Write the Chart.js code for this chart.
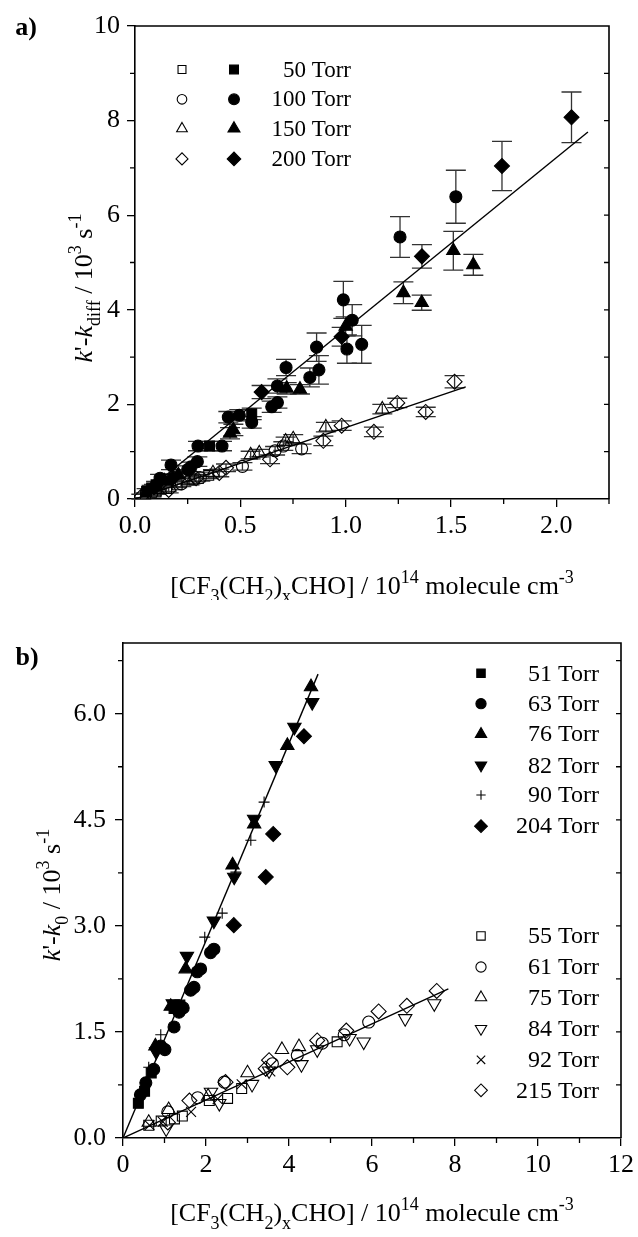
<!DOCTYPE html>
<html>
<head>
<meta charset="utf-8">
<script src="https://cdn.jsdelivr.net/npm/chart.js@4/dist/chart.umd.min.js"></script>
<style>
html, body { margin: 0; padding: 0; background: #fff; }
#wrap { position: relative; width: 638px; height: 1237px; }
canvas { position: absolute; left: 0; }
</style>
</head>
<body>
<div id="wrap">
	<canvas id="chartA" width="638" height="600" style="top:0"></canvas>
	<canvas id="chartB" width="638" height="637" style="top:600px"></canvas>
</div>
<script>
// ---------- panel a) data: [CF3(CH2)xCHO] (1e14) vs k'-kdiff (1e3 s-1) ----------
const aOpen50X = [0.05, 0.10, 0.15, 0.20, 0.28, 0.35];
const aOpen50Y = [0.08, 0.15, 0.22, 0.30, 0.40, 0.50];
const aOpen50E = [0.05, 0.05, 0.06, 0.06, 0.07, 0.07];

const aOpen100X = [0.08, 0.22, 0.31, 0.51, 0.665, 0.704, 0.791];
const aOpen100Y = [0.12, 0.32, 0.45, 0.69, 1.02, 1.12, 1.06];
const aOpen100E = [0.05, 0.06, 0.07, 0.08, 0.09, 0.09, 0.1];

const aOpen150X = [0.12, 0.25, 0.37, 0.549, 0.59, 0.715, 0.751, 0.906, 1.174];
const aOpen150Y = [0.20, 0.38, 0.55, 0.93, 0.97, 1.22, 1.27, 1.52, 1.90];
const aOpen150E = [0.05, 0.06, 0.07, 0.08, 0.08, 0.09, 0.09, 0.1, 0.1];

const aOpen200X = [0.03, 0.16, 0.29, 0.40, 0.432, 0.641, 0.894, 0.981, 1.134, 1.245, 1.38, 1.517];
const aOpen200Y = [0.05, 0.19, 0.44, 0.55, 0.66, 0.84, 1.23, 1.55, 1.42, 2.03, 1.84, 2.48];
const aOpen200E = [0.05, 0.06, 0.07, 0.08, 0.08, 0.09, 0.1, 0.1, 0.1, 0.1, 0.1, 0.13];

const aFill50X = [0.055, 0.079, 0.10, 0.354, 0.554];
const aFill50Y = [0.16, 0.23, 0.30, 1.12, 1.80];
const aFill50E = [0.06, 0.06, 0.07, 0.1, 0.12];

const aFill100X = [0.119, 0.171, 0.25, 0.266, 0.296, 0.299, 0.413, 0.443, 0.495, 0.554, 0.649, 0.676, 0.676, 0.717, 0.83, 0.862, 0.873, 0.989, 1.006, 1.031, 1.076, 1.258, 1.523];
const aFill100Y = [0.44, 0.72, 0.62, 0.68, 0.79, 1.12, 1.12, 1.73, 1.77, 1.62, 1.95, 2.04, 2.39, 2.78, 2.57, 3.21, 2.73, 4.21, 3.17, 3.78, 3.27, 5.54, 6.39];
const aFill100E = [0.08, 0.1, 0.08, 0.1, 0.1, 0.1, 0.1, 0.12, 0.12, 0.12, 0.12, 0.12, 0.15, 0.17, 0.2, 0.3, 0.3, 0.39, 0.3, 0.33, 0.4, 0.43, 0.56];

const aFill150X = [0.14, 0.206, 0.451, 0.467, 0.72, 0.783, 1.0, 1.274, 1.361, 1.511, 1.606];
const aFill150Y = [0.38, 0.51, 1.39, 1.46, 2.34, 2.32, 3.65, 4.36, 4.15, 5.25, 4.95];
const aFill150E = [0.06, 0.08, 0.12, 0.12, 0.12, 0.1, 0.2, 0.23, 0.16, 0.41, 0.22];

const aFill200X = [0.09, 0.18, 0.601, 0.981, 1.362, 1.742, 2.072];
const aFill200Y = [0.25, 0.45, 2.26, 3.43, 5.13, 7.04, 8.07];
const aFill200E = [0.06, 0.08, 0.14, 0.2, 0.25, 0.52, 0.535];

// fitted straight lines (end points)
const aFitUpperX = [0.03, 2.15];
const aFitUpperY = [0.08, 7.76];
const aFitLowerX = [0.0, 1.57];
const aFitLowerY = [0.0, 2.37];

const aLegendLabels = ['50 Torr', '100 Torr', '150 Torr', '200 Torr'];
const aXMinorTicks = [0.25, 0.75, 1.25, 1.75, 2.25];
const aYMinorTicks = [1, 3, 5, 7, 9];
const aYRightTicks = [1, 2, 3, 4, 5, 6, 7, 8, 9];

// ---------- panel b) data ----------
const b51X = [0.37, 0.52, 0.68, 1.23, 1.37];
const b51Y = [0.49, 0.66, 0.92, 1.83, 1.88];
const b63X = [0.42, 0.55, 0.74, 0.91, 1.01, 1.23, 1.35, 1.45, 1.63, 1.71, 1.79, 1.87, 2.11, 2.19];
const b63Y = [0.61, 0.78, 0.97, 1.30, 1.25, 1.57, 1.78, 1.84, 2.09, 2.13, 2.35, 2.39, 2.62, 2.67];
const b76X = [0.78, 1.15, 1.51, 2.64, 3.16, 3.96, 4.53];
const b76Y = [1.30, 1.86, 2.39, 3.86, 4.44, 5.55, 6.38];
const b82X = [0.80, 1.20, 1.54, 2.19, 2.68, 3.16, 3.68, 4.13, 4.56];
const b82Y = [1.22, 1.90, 2.57, 3.07, 3.69, 4.51, 5.27, 5.81, 6.16];
const b90X = [0.62, 0.91, 1.97, 2.39, 2.72, 3.08, 3.40];
const b90Y = [1.00, 1.46, 2.84, 3.18, 3.76, 4.21, 4.75];
const b204X = [2.67, 3.44, 3.62, 4.36];
const b204Y = [3.01, 3.69, 4.30, 5.68];

const b55X = [0.62, 0.92, 1.24, 1.43, 2.08, 2.52, 2.86, 5.16];
const b55Y = [0.18, 0.24, 0.27, 0.31, 0.53, 0.56, 0.70, 1.36];
const b61X = [1.08, 1.80, 2.44, 3.60, 4.20, 4.80, 5.33, 5.92];
const b61Y = [0.37, 0.57, 0.79, 1.05, 1.17, 1.34, 1.46, 1.64];
const b75X = [0.62, 1.10, 2.05, 3.00, 3.83, 4.24];
const b75Y = [0.22, 0.40, 0.59, 0.92, 1.25, 1.29];
const b84X = [1.04, 2.12, 2.32, 3.11, 3.52, 4.30, 4.68, 5.46, 5.80, 6.80, 7.50];
const b84Y = [0.13, 0.65, 0.49, 0.76, 0.95, 1.04, 1.25, 1.41, 1.36, 1.69, 1.90];
const b92X = [0.64, 0.96, 1.64, 2.28, 2.86, 3.55];
const b92Y = [0.18, 0.23, 0.37, 0.55, 0.76, 0.94];
const b215X = [1.08, 1.60, 2.47, 3.44, 3.52, 3.96, 4.68, 5.38, 6.16, 6.84, 7.56];
const b215Y = [0.22, 0.53, 0.79, 0.98, 1.10, 1.00, 1.38, 1.52, 1.79, 1.87, 2.08];

const bFitUpperX = [0.0, 4.70];
const bFitUpperY = [0.0, 6.56];
const bFitLowerX = [0.0, 7.84];
const bFitLowerY = [0.0, 2.11];

const bFilledLabels = ['51 Torr', '63 Torr', '76 Torr', '82 Torr', '90 Torr', '204 Torr'];
const bOpenLabels = ['55 Torr', '61 Torr', '75 Torr', '84 Torr', '92 Torr', '215 Torr'];
const bXMinorTicks = [1, 3, 5, 7, 9, 11];
const bYMinorTicks = [0.75, 2.25, 3.75, 5.25, 6.75];
const bYRightTicks = [0.75, 1.5, 2.25, 3.0, 3.75, 4.5, 5.25, 6.0, 6.75];

const FONT = '"Liberation Serif", "Times New Roman", serif';
const TICK_SIZE = 26;
const TITLE_SIZE = 26;
Chart.defaults.font.family = FONT;
Chart.defaults.color = '#000';

// marker looks
const STYLES = {
	square: { pointStyle: 'rect', r: 7, rot: 0 },
	circle: { pointStyle: 'circle', r: 6, rot: 0 },
	up: { pointStyle: 'triangle', r: 7.7, rot: 0 },
	down: { pointStyle: 'triangle', r: 7.7, rot: 180 },
	diamond: { pointStyle: 'rectRot', r: 7.5, rot: 0 },
	plus: { pointStyle: 'cross', r: 5.5, rot: 0 },
	cross: { pointStyle: 'crossRot', r: 7, rot: 0 },
};

let toPoints = (xs, ys) => xs.map((v, i) => ({ x: v, y: ys[i] }));

let markerSet = (label, xs, ys, shape, filled, errors) => {
	let st = STYLES[shape];
	return {
		label,
		data: toPoints(xs, ys),
		showLine: false,
		pointStyle: st.pointStyle,
		pointRadius: st.r,
		pointRotation: st.rot,
		pointBackgroundColor: filled ? '#000' : 'rgba(0,0,0,0)',
		pointBorderColor: '#000',
		pointBorderWidth: 1.1,
		errors,
	};
};

let lineSet = (xs, ys) => ({
	data: toPoints(xs, ys),
	showLine: true,
	borderColor: '#000',
	borderWidth: 1.4,
	pointRadius: 0,
	fill: false,
});

// draw one legend marker
let drawMarker = (ctx, shape, filled, x, y, scale = 1) => {
	let st = STYLES[shape];
	ctx.save();
	ctx.fillStyle = filled ? '#000' : 'rgba(0,0,0,0)';
	ctx.strokeStyle = '#000';
	ctx.lineWidth = 1.1;
	Chart.helpers.drawPoint(ctx, { pointStyle: st.pointStyle, radius: st.r * scale, rotation: st.rot, borderWidth: 1.1 }, x, y);
	ctx.restore();
};

// text with italics / sub / superscripts; parts = [[text, kind], ...]
let richFont = (kind, size) => {
	let small = kind === 'sub' || kind === 'sup';
	return (kind === 'i' ? 'italic ' : '') + (small ? Math.round(size * 0.7) : size) + 'px ' + FONT;
};

let richWidth = (ctx, parts, size) => parts.reduce((w, [t, k]) => {
	ctx.font = richFont(k, size);
	return w + ctx.measureText(t).width;
}, 0);

let drawRich = (ctx, parts, cx, baseline, size) => {
	let x = cx - richWidth(ctx, parts, size) / 2;
	ctx.textAlign = 'left';
	ctx.textBaseline = 'alphabetic';
	ctx.fillStyle = '#000';
	parts.forEach(([t, k]) => {
		ctx.font = richFont(k, size);
		let dy = k === 'sub' ? size * 0.3 : k === 'sup' ? -size * 0.42 : 0;
		ctx.fillText(t, x, baseline + dy);
		x += ctx.measureText(t).width;
	});
};

const X_TITLE = [['[CF', ''], ['3', 'sub'], ['(CH', ''], ['2', 'sub'], [')', ''], ['x', 'sub'], ['CHO] / 10', ''], ['14', 'sup'], [' molecule cm', ''], ['-3', 'sup']];

// error bars under the markers
const errorBars = {
	id: 'errorBars',
	beforeDatasetsDraw (chart) {
		let { ctx, scales: { x, y } } = chart;
		ctx.save();
		ctx.strokeStyle = '#333';
		ctx.lineWidth = 1.3;
		chart.data.datasets.forEach((ds) => {
			if (!ds.errors) { return; }
			ds.data.forEach((p, i) => {
				let e = ds.errors[i];
				let px = x.getPixelForValue(p.x);
				let top = y.getPixelForValue(p.y + e);
				let bot = y.getPixelForValue(p.y - e);
				ctx.beginPath();
				ctx.moveTo(px, top); ctx.lineTo(px, bot);
				ctx.moveTo(px - 10, top); ctx.lineTo(px + 10, top);
				ctx.moveTo(px - 10, bot); ctx.lineTo(px + 10, bot);
				ctx.stroke();
			});
		});
		ctx.restore();
	},
};

// frame (top/right), minor ticks and inward right ticks
let frameTicks = (xMinor, yMinor, yRight) => ({
	id: 'frameTicks',
	afterDraw (chart) {
		let { ctx, chartArea: ca, scales: { x, y } } = chart;
		ctx.save();
		ctx.strokeStyle = '#000';
		ctx.lineWidth = 1.6;
		ctx.beginPath();
		ctx.moveTo(ca.left, ca.top); ctx.lineTo(ca.right, ca.top); ctx.lineTo(ca.right, ca.bottom);
		ctx.stroke();
		ctx.lineWidth = 1.3;
		ctx.beginPath();
		xMinor.forEach((v) => {
			let px = x.getPixelForValue(v);
			ctx.moveTo(px, ca.bottom); ctx.lineTo(px, ca.bottom + 5);
		});
		yMinor.forEach((v) => {
			let py = y.getPixelForValue(v);
			ctx.moveTo(ca.left, py); ctx.lineTo(ca.left - 5, py);
		});
		yRight.forEach((v) => {
			let py = y.getPixelForValue(v);
			ctx.moveTo(ca.right, py); ctx.lineTo(ca.right - 5, py);
		});
		ctx.stroke();
		ctx.restore();
	},
});

let axisOpts = (min, max, step, fmt, fitSize, horizontal, pad) => ({
	type: 'linear',
	min,
	max,
	border: { display: true, color: '#000', width: 1.6 },
	grid: { display: true, drawOnChartArea: false, drawTicks: true, tickLength: 8, color: '#000', lineWidth: 1.3 },
	ticks: { stepSize: step, includeBounds: false, padding: pad, color: '#000', font: { family: FONT, size: TICK_SIZE }, maxRotation: 0, autoSkip: false, callback: fmt },
	afterFit (scale) {
		if (horizontal) { scale.height = fitSize; } else { scale.width = fitSize; }
	},
});

// ---------- chart a ----------
const panelADecor = {
	id: 'panelADecor',
	afterDraw (chart) {
		let { ctx, chartArea: ca } = chart;
		ctx.save();
		ctx.font = 'bold 26px ' + FONT;
		ctx.textAlign = 'center';
		ctx.textBaseline = 'middle';
		ctx.fillStyle = '#000';
		ctx.fillText('a)', 26, 28);

		// legend
		let shapes = ['square', 'circle', 'up', 'diamond'];
		let rows = [69.5, 99.3, 128.6, 158.9];
		aLegendLabels.forEach((lab, i) => {
			drawMarker(ctx, shapes[i], false, 182, rows[i], 0.8);
			drawMarker(ctx, shapes[i], true, 234, rows[i], 0.9);
			ctx.font = '23px ' + FONT;
			ctx.textAlign = 'right';
			ctx.textBaseline = 'middle';
			ctx.fillStyle = '#000';
			ctx.fillText(lab, 351, rows[i] + 1);
		});

		drawRich(ctx, X_TITLE, (ca.left + ca.right) / 2, ca.bottom + 95, TITLE_SIZE);

		ctx.translate(92, 288);
		ctx.rotate(-Math.PI / 2);
		drawRich(ctx, [['k', 'i'], ["'-", ''], ['k', 'i'], ['diff', 'sub'], [' / 10', ''], ['3', 'sup'], [' s', ''], ['-1', 'sup']], 0, 0, TITLE_SIZE);
		ctx.restore();
	},
};

new Chart(document.getElementById('chartA'), {
	type: 'scatter',
	data: {
		datasets: [
			markerSet('50 open', aOpen50X, aOpen50Y, 'square', false, aOpen50E),
			markerSet('100 open', aOpen100X, aOpen100Y, 'circle', false, aOpen100E),
			markerSet('150 open', aOpen150X, aOpen150Y, 'up', false, aOpen150E),
			markerSet('200 open', aOpen200X, aOpen200Y, 'diamond', false, aOpen200E),
			markerSet('50 filled', aFill50X, aFill50Y, 'square', true, aFill50E),
			markerSet('100 filled', aFill100X, aFill100Y, 'circle', true, aFill100E),
			markerSet('150 filled', aFill150X, aFill150Y, 'up', true, aFill150E),
			markerSet('200 filled', aFill200X, aFill200Y, 'diamond', true, aFill200E),
			lineSet(aFitUpperX, aFitUpperY),
			lineSet(aFitLowerX, aFitLowerY),
		],
	},
	options: {
		responsive: false,
		animation: false,
		layout: { padding: { left: 0, top: 26, right: 29, bottom: 0 } },
		plugins: { legend: { display: false }, tooltip: { enabled: false } },
		scales: {
			x: axisOpts(0, 2.25, 0.5, v => v.toFixed(1), 101, true, 4),
			y: axisOpts(0, 10, 2, v => String(v), 135, false, 7),
		},
	},
	plugins: [errorBars, frameTicks(aXMinorTicks, aYMinorTicks, aYRightTicks), panelADecor],
});

// ---------- chart b ----------
const panelBDecor = {
	id: 'panelBDecor',
	afterDraw (chart) {
		let { ctx, chartArea: ca } = chart;
		ctx.save();
		ctx.font = 'bold 26px ' + FONT;
		ctx.textAlign = 'center';
		ctx.textBaseline = 'middle';
		ctx.fillStyle = '#000';
		ctx.fillText('b)', 27, 58);

		let filledShapes = ['square', 'circle', 'up', 'down', 'plus', 'diamond'];
		let openShapes = ['square', 'circle', 'up', 'down', 'cross', 'diamond'];
		let filledRows = [73.3, 103.7, 134.1, 165.3, 195.0, 226.2];
		let openRows = [335.9, 367.0, 397.5, 428.7, 459.8, 490.3];
		let put = (shapes, labels, rows, filled) => {
			labels.forEach((lab, i) => {
				drawMarker(ctx, shapes[i], filled, 481, rows[i], 0.85);
				ctx.font = '24px ' + FONT;
				ctx.textAlign = 'right';
				ctx.textBaseline = 'middle';
				ctx.fillStyle = '#000';
				ctx.fillText(lab, 599, rows[i] + 1);
			});
		};
		put(filledShapes, bFilledLabels, filledRows, true);
		put(openShapes, bOpenLabels, openRows, false);

		drawRich(ctx, X_TITLE, (ca.left + ca.right) / 2, ca.bottom + 83, TITLE_SIZE);

		ctx.translate(60, 295);
		ctx.rotate(-Math.PI / 2);
		drawRich(ctx, [['k', 'i'], ["'-", ''], ['k', 'i'], ['0', 'sub'], [' / 10', ''], ['3', 'sup'], [' s', ''], ['-1', 'sup']], 0, 0, TITLE_SIZE);
		ctx.restore();
	},
};

new Chart(document.getElementById('chartB'), {
	type: 'scatter',
	data: {
		datasets: [
			markerSet('51', b51X, b51Y, 'square', true),
			markerSet('63', b63X, b63Y, 'circle', true),
			markerSet('76', b76X, b76Y, 'up', true),
			markerSet('82', b82X, b82Y, 'down', true),
			markerSet('90', b90X, b90Y, 'plus', true),
			markerSet('204', b204X, b204Y, 'diamond', true),
			markerSet('55', b55X, b55Y, 'square', false),
			markerSet('61', b61X, b61Y, 'circle', false),
			markerSet('75', b75X, b75Y, 'up', false),
			markerSet('84', b84X, b84Y, 'down', false),
			markerSet('92', b92X, b92Y, 'cross', false),
			markerSet('215', b215X, b215Y, 'diamond', false),
			lineSet(bFitUpperX, bFitUpperY),
			lineSet(bFitLowerX, bFitLowerY),
		],
	},
	options: {
		responsive: false,
		animation: false,
		layout: { padding: { left: 0, top: 43, right: 15, bottom: 0 } },
		plugins: { legend: { display: false }, tooltip: { enabled: false } },
		scales: {
			x: axisOpts(0, 12, 2, v => String(v), 99, true, 4),
			y: axisOpts(0, 7, 1.5, v => v.toFixed(1), 123, false, 9),
		},
	},
	plugins: [errorBars, frameTicks(bXMinorTicks, bYMinorTicks, bYRightTicks), panelBDecor],
});
</script>
</body>
</html>
